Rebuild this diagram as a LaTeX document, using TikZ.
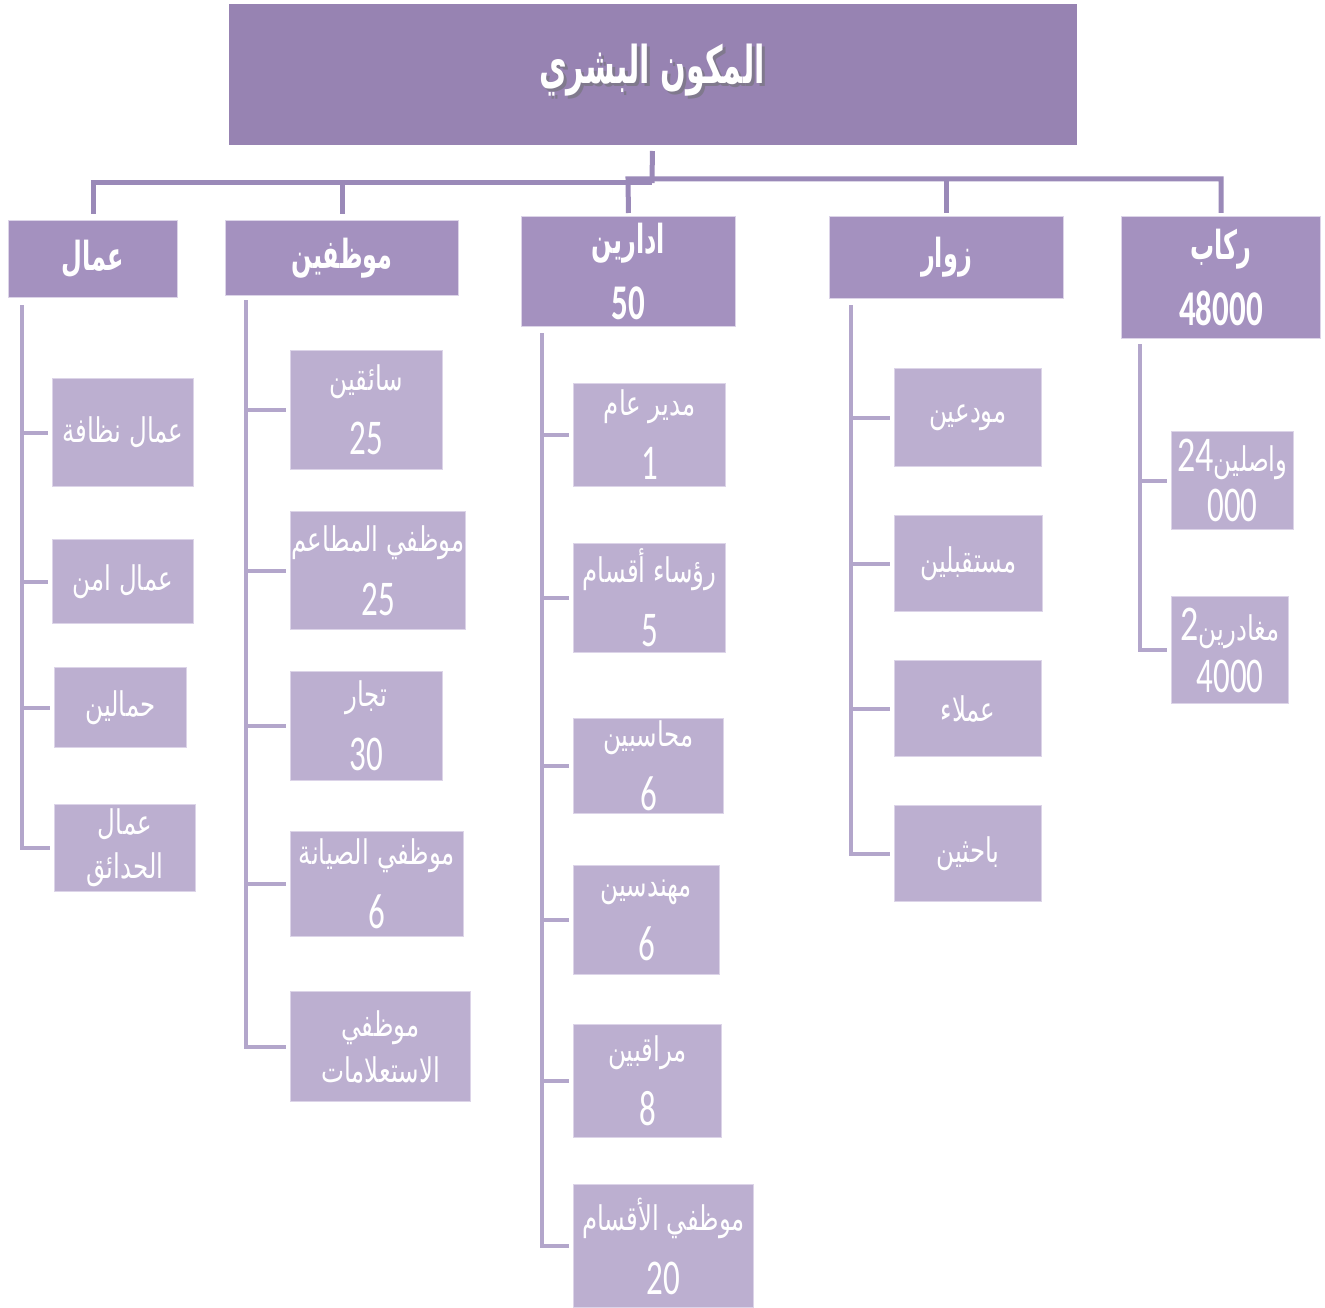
\documentclass[tikz,border=0pt]{standalone}
\usepackage{fontspec}
\usepackage{graphicx}
\newfontfamily\arabicfont[Script=Arabic]{DejaVu Sans}
\newfontfamily\digitfont{Carlito}
\TeXXeTstate=1

\definecolor{topfill}{HTML}{9783B2}
\definecolor{headfill}{HTML}{A491BF}
\definecolor{leaffill}{HTML}{BCAFD0}
\definecolor{busline}{HTML}{9A89B8}
\definecolor{spineline}{HTML}{B3A6CB}
\definecolor{edgeline}{HTML}{DCD4E8}
\definecolor{shade}{HTML}{4A3F5C}

% Arabic line (right to left) and a line of digits, both narrowed
\newcommand{\arl}[1]{\scalebox{0.72}[1]{\arabicfont\beginR #1\endR}}
\newcommand{\arh}[1]{\scalebox{0.6}[1]{\arabicfont\beginR #1\endR}}
\newcommand{\dgl}[1]{\scalebox{0.66}[1]{\fontsize{50}{60}\selectfont\digitfont #1}}
% title with a drop shadow behind it
\newcommand{\shadowed}[1]{\makebox[0pt][l]{\hspace{3pt}\raisebox{-3pt}{\color{shade!70}#1}}#1}

\begin{document}
\begin{tikzpicture}[x=1pt,y=-1pt,
  box/.style={draw=edgeline, line width=1pt, text=white, inner sep=0pt,
    align=center, anchor=north west},
  topbox/.style={box, fill=topfill, draw=none},
  headbox/.style={box, fill=headfill, font=\bfseries\fontsize{40}{66}\selectfont},
  leafbox/.style={box, fill=leaffill, font=\fontsize{34}{64}\selectfont},
  bus/.style={draw=busline, line width=5pt},
  spine/.style={draw=spineline, line width=4pt},
  tick/.style={spine, shorten >=4pt}]

\useasboundingbox (0,0) rectangle (1325,1308);

% title
\node[topbox, minimum width=848pt, minimum height=141pt] (top) at (228,4) {};
\node[text=white, font=\bfseries\fontsize{52}{56}\selectfont] (title) at (652,72)
  {\shadowed{\scalebox{0.58}[1]{\arabicfont\beginR المكون البشري\endR}}};

% second level
\node[headbox, minimum width=169pt, minimum height=77pt] (h1) at (8,220) {\arh{عمال}};
\node[headbox, minimum width=233pt, minimum height=75pt] (h2) at (225,220) {\arh{موظفين}};
\node[headbox, minimum width=214pt, minimum height=110pt] (h3) at (521,216)
  {\arh{ادارين}\\\dgl{50}};
\node[headbox, minimum width=234pt, minimum height=82pt] (h4) at (829,216) {\arh{زوار}};
\node[headbox, minimum width=199pt, minimum height=122pt] (h5) at (1121,216)
  {\arh{ركاب}\\\dgl{48000}};

% connectors from the title
\coordinate (busL) at (652,183);
\coordinate (busR) at (628,179);
\draw[bus, shorten <=5pt] (top.south) -- (busL);
\draw[bus, shorten <=6pt] (h1.north) |- (busL);
\draw[bus, shorten <=6pt] (h2.north) -- (h2.north |- busL);
\draw[bus, shorten <=3pt, shorten >=3pt] (h5.north) |- (busR) -- (h3.north);
\draw[bus, shorten <=3pt] (h4.north) -- (h4.north |- busR);

% workers
\node[leafbox, minimum width=141pt, minimum height=108pt] (a1) at (52,378) {\arl{عمال نظافة}};
\node[leafbox, minimum width=141pt, minimum height=84pt] (a2) at (52,539) {\arl{عمال امن}};
\node[leafbox, minimum width=132pt, minimum height=80pt] (a3) at (54,667) {\arl{حمالين}};
\node[leafbox, minimum width=141pt, minimum height=87pt, font=\fontsize{34}{44}\selectfont] (a4) at (54,804)
  {\arl{عمال}\\\arl{الحدائق}};

% employees
\node[leafbox, minimum width=152pt, minimum height=119pt] (b1) at (290,350) {\arl{سائقين}\\\dgl{25}};
\node[leafbox, minimum width=175pt, minimum height=118pt] (b2) at (290,511) {\arl{موظفي المطاعم}\\\dgl{25}};
\node[leafbox, minimum width=152pt, minimum height=109pt] (b3) at (290,671) {\arl{تجار}\\\dgl{30}};
\node[leafbox, minimum width=173pt, minimum height=105pt] (b4) at (290,831) {\arl{موظفي الصيانة}\\\dgl{6}};
\node[leafbox, minimum width=180pt, minimum height=110pt, font=\fontsize{34}{46}\selectfont] (b5) at (290,991)
  {\arl{موظفي}\\\arl{الاستعلامات}};

% administrators
\node[leafbox, minimum width=152pt, minimum height=103pt] (c1) at (573,383) {\arl{مدير عام}\\\dgl{1}};
\node[leafbox, minimum width=152pt, minimum height=109pt] (c2) at (573,543) {\arl{رؤساء أقسام}\\\dgl{5}};
\node[leafbox, minimum width=150pt, minimum height=95pt] (c3) at (573,718) {\arl{محاسبين}\\\dgl{6}};
\node[leafbox, minimum width=146pt, minimum height=109pt] (c4) at (573,865) {\arl{مهندسين}\\\dgl{6}};
\node[leafbox, minimum width=148pt, minimum height=113pt] (c5) at (573,1024) {\arl{مراقبين}\\\dgl{8}};
\node[leafbox, minimum width=180pt, minimum height=123pt] (c6) at (573,1184) {\arl{موظفي الأقسام}\\\dgl{20}};

% visitors
\node[leafbox, minimum width=147pt, minimum height=98pt] (d1) at (894,368) {\arl{مودعين}};
\node[leafbox, minimum width=148pt, minimum height=96pt] (d2) at (894,515) {\arl{مستقبلين}};
\node[leafbox, minimum width=147pt, minimum height=96pt] (d3) at (894,660) {\arl{عملاء}};
\node[leafbox, minimum width=147pt, minimum height=96pt] (d4) at (894,805) {\arl{باحثين}};

% passengers
\node[leafbox, minimum width=122pt, minimum height=98pt, font=\fontsize{34}{50}\selectfont] (e1) at (1171,431)
  {\arl{واصلين\beginL\fontsize{50}{50}\selectfont\digitfont 24\endL}\\\dgl{000}};
\node[leafbox, minimum width=117pt, minimum height=107pt, font=\fontsize{34}{52}\selectfont] (e2) at (1171,596)
  {\arl{مغادرين\beginL\fontsize{50}{50}\selectfont\digitfont 2\endL}\\\dgl{4000}};

% column spines and ticks
\coordinate (s1) at (22,305);
\draw[tick] (s1) |- (a4.west);
\foreach \n in {a1,a2,a3} \draw[tick] (s1 |- \n.west) -- (\n.west);

\coordinate (s2) at (246,300);
\draw[tick] (s2) |- (b5.west);
\foreach \n in {b1,b2,b3,b4} \draw[tick] (s2 |- \n.west) -- (\n.west);

\coordinate (s3) at (542,333);
\draw[tick] (s3) |- (c6.west);
\foreach \n in {c1,c2,c3,c4,c5} \draw[tick] (s3 |- \n.west) -- (\n.west);

\coordinate (s4) at (851,305);
\draw[tick] (s4) |- (d4.west);
\foreach \n in {d1,d2,d3} \draw[tick] (s4 |- \n.west) -- (\n.west);

\coordinate (s5) at (1140,344);
\draw[tick] (s5) |- (e2.west);
\draw[tick] (s5 |- e1.west) -- (e1.west);
\end{tikzpicture}
\end{document}
